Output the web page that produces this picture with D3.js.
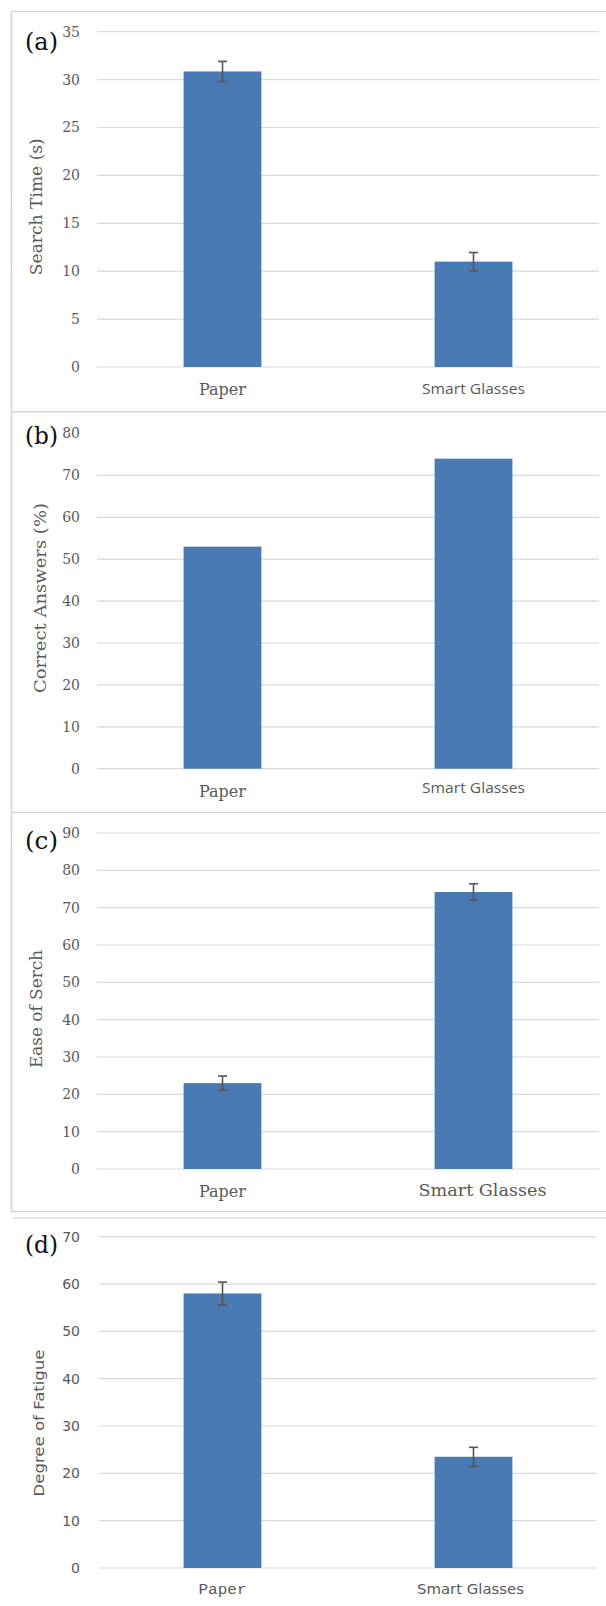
<!DOCTYPE html>
<html>
<head>
<meta charset="utf-8">
<script src="https://cdn.jsdelivr.net/npm/d3@7"></script>
<style>
  html, body { margin: 0; padding: 0; background: #fff; }
  svg { display: block; }
</style>
</head>
<body>
<svg id="chart" width="606" height="1606"></svg>
<script>
// ---------------- DATA ----------------
const categories = ["Paper", "Smart Glasses"];

const searchTime = [30.85, 11.0];
const searchTimeErr = [1.05, 0.95];
const searchTicks = [0, 5, 10, 15, 20, 25, 30, 35];

const correctAnswers = [53, 74];
const correctTicks = [0, 10, 20, 30, 40, 50, 60, 70, 80];

const easeOfSearch = [23, 74.2];
const easeErr = [1.9, 2.2];
const easeTicks = [0, 10, 20, 30, 40, 50, 60, 70, 80, 90];

const fatigue = [58, 23.5];
const fatigueErr = [2.4, 2.0];
const fatigueTicks = [0, 10, 20, 30, 40, 50, 60, 70];

const panelLetters = ["(a)", "(b)", "(c)", "(d)"];
const yTitles = ["Search Time (s)", "Correct Answers (%)", "Ease of Serch", "Degree of Fatigue"];

// ---------------- DRAW ----------------
const svg = d3.select("#chart");
const BAR = "#4a7ab4";
const GRID = "#d9d9d9";
const TXT = "#595959";
const SERIF = "'DejaVu Serif', 'Liberation Serif', serif";
const SANS = "'Open Sans', 'DejaVu Sans', sans-serif";

// borders
const border = svg.append("g").attr("fill", "none").attr("stroke", "#d6d6d6").attr("stroke-width", 1.6);
border.append("path").attr("d", "M606,11.5 H11.5 V1211.5 H606");
border.append("line").attr("x1", 11.5).attr("x2", 606).attr("y1", 411.8).attr("y2", 411.8);
border.append("line").attr("x1", 11.5).attr("x2", 606).attr("y1", 812.5).attr("y2", 812.5);
border.append("line").attr("x1", 13).attr("x2", 606).attr("y1", 1217.8).attr("y2", 1217.8)
  .attr("stroke", "#e0e0e0");

const panels = [
  { values: searchTime, errs: searchTimeErr, ticks: searchTicks, yTop: 31.7, y0: 367,
    gx0: 97, gx1: 599, topGrid: true, tickFont: SERIF, tickSize: 14,
    letterY: 50, titleX: 37, titleY: 206.7, titleLen: 137, titleFont: SERIF, titleSize: 16,
    labels: [{font: SERIF, size: 16, y: 394.5, len: null}, {font: SANS, size: 15, y: 394, len: 103}] },
  { values: correctAnswers, errs: null, ticks: correctTicks, yTop: 433.5, y0: 768.7,
    gx0: 97, gx1: 599, topGrid: false, tickFont: SERIF, tickSize: 14,
    letterY: 444, titleX: 41, titleY: 598, titleLen: 190, titleFont: SERIF, titleSize: 16.5,
    labels: [{font: SERIF, size: 16, y: 797, len: null}, {font: SANS, size: 15, y: 793, len: 103}] },
  { values: easeOfSearch, errs: easeErr, ticks: easeTicks, yTop: 833, y0: 1169,
    gx0: 97, gx1: 599, topGrid: true, tickFont: SERIF, tickSize: 14,
    letterY: 849, titleX: 37, titleY: 1009, titleLen: 118, titleFont: SERIF, titleSize: 16.5,
    labels: [{font: SERIF, size: 16, y: 1197, len: null}, {font: SERIF, size: 16, y: 1196, len: 128}] },
  { values: fatigue, errs: fatigueErr, ticks: fatigueTicks, yTop: 1236.7, y0: 1568,
    gx0: 99, gx1: 596, topGrid: true, tickFont: "'DejaVu Sans', 'Liberation Sans', sans-serif", tickSize: 14,
    letterY: 1253, titleX: 39, titleY: 1423, titleLen: 147, titleFont: "'DejaVu Sans', sans-serif", titleSize: 14,
    labels: [{font: "'Liberation Mono', 'DejaVu Sans Mono', monospace", size: 15.5, y: 1594, len: 48},
             {font: "'DejaVu Sans', sans-serif", size: 14, y: 1594, len: 107}] }
];

panels.forEach((p, i) => {
  const g = svg.append("g");
  const maxV = p.ticks[p.ticks.length - 1];
  const y = d3.scaleLinear().domain([0, maxV]).range([p.y0, p.yTop]);
  const x = d3.scaleBand().domain(categories).range([97, 599])
    .paddingInner(0.69).paddingOuter(0.345);

  // gridlines
  const gridTicks = p.topGrid ? p.ticks : p.ticks.slice(0, -1);
  g.append("g").selectAll("line").data(gridTicks).join("line")
    .attr("x1", p.gx0).attr("x2", p.gx1)
    .attr("y1", d => y(d)).attr("y2", d => y(d))
    .attr("stroke", GRID).attr("stroke-width", 1.2);

  // y axis tick labels (via d3 axis, domain/ticks hidden)
  const axis = d3.axisLeft(y).tickValues(p.ticks).tickSize(0).tickPadding(0).tickFormat(d3.format("d"));
  const ag = g.append("g").attr("transform", "translate(80,0)").call(axis);
  ag.select(".domain").remove();
  ag.selectAll("text").attr("fill", TXT).attr("font-family", p.tickFont).attr("font-size", p.tickSize);

  // bars
  g.append("g").selectAll("rect").data(p.values).join("rect")
    .attr("x", (d, j) => x(categories[j]))
    .attr("width", x.bandwidth())
    .attr("y", d => y(d))
    .attr("height", d => p.y0 - y(d))
    .attr("fill", BAR);

  // error bars
  if (p.errs) {
    const eg = g.append("g").attr("stroke", "#555").attr("stroke-width", 1.6).attr("fill", "none");
    p.values.forEach((v, j) => {
      const cx = x(categories[j]) + x.bandwidth() / 2;
      const t = y(v + p.errs[j]), b = y(v - p.errs[j]);
      eg.append("line").attr("x1", cx).attr("x2", cx).attr("y1", t).attr("y2", b);
      eg.append("line").attr("x1", cx - 4.5).attr("x2", cx + 4.5).attr("y1", t).attr("y2", t);
      eg.append("line").attr("x1", cx - 4.5).attr("x2", cx + 4.5).attr("y1", b).attr("y2", b);
    });
  }

  // x labels
  categories.forEach((c, j) => {
    const L = p.labels[j];
    const t = g.append("text")
      .attr("x", x(c) + x.bandwidth() / 2 + (i === 2 && j === 1 ? 9 : 0) + (i === 3 && j === 1 ? -3 : 0))
      .attr("y", L.y)
      .attr("text-anchor", "middle")
      .attr("font-family", L.font).attr("font-size", L.size)
      .attr("fill", TXT).text(c);
    if (L.len) t.attr("textLength", L.len).attr("lengthAdjust", "spacingAndGlyphs");
  });

  // y title
  g.append("text")
    .attr("transform", `translate(${p.titleX + 5},${p.titleY}) rotate(-90)`)
    .attr("text-anchor", "middle")
    .attr("font-family", p.titleFont).attr("font-size", p.titleSize)
    .attr("fill", TXT)
    .attr("textLength", p.titleLen).attr("lengthAdjust", "spacingAndGlyphs")
    .text(yTitles[i]);

  // panel letter
  g.append("text")
    .attr("x", 25).attr("y", p.letterY)
    .attr("font-family", SERIF).attr("font-size", 25)
    .attr("fill", "#111")
    .attr("textLength", 33).attr("lengthAdjust", "spacingAndGlyphs")
    .text(panelLetters[i]);
});
</script>
</body>
</html>
